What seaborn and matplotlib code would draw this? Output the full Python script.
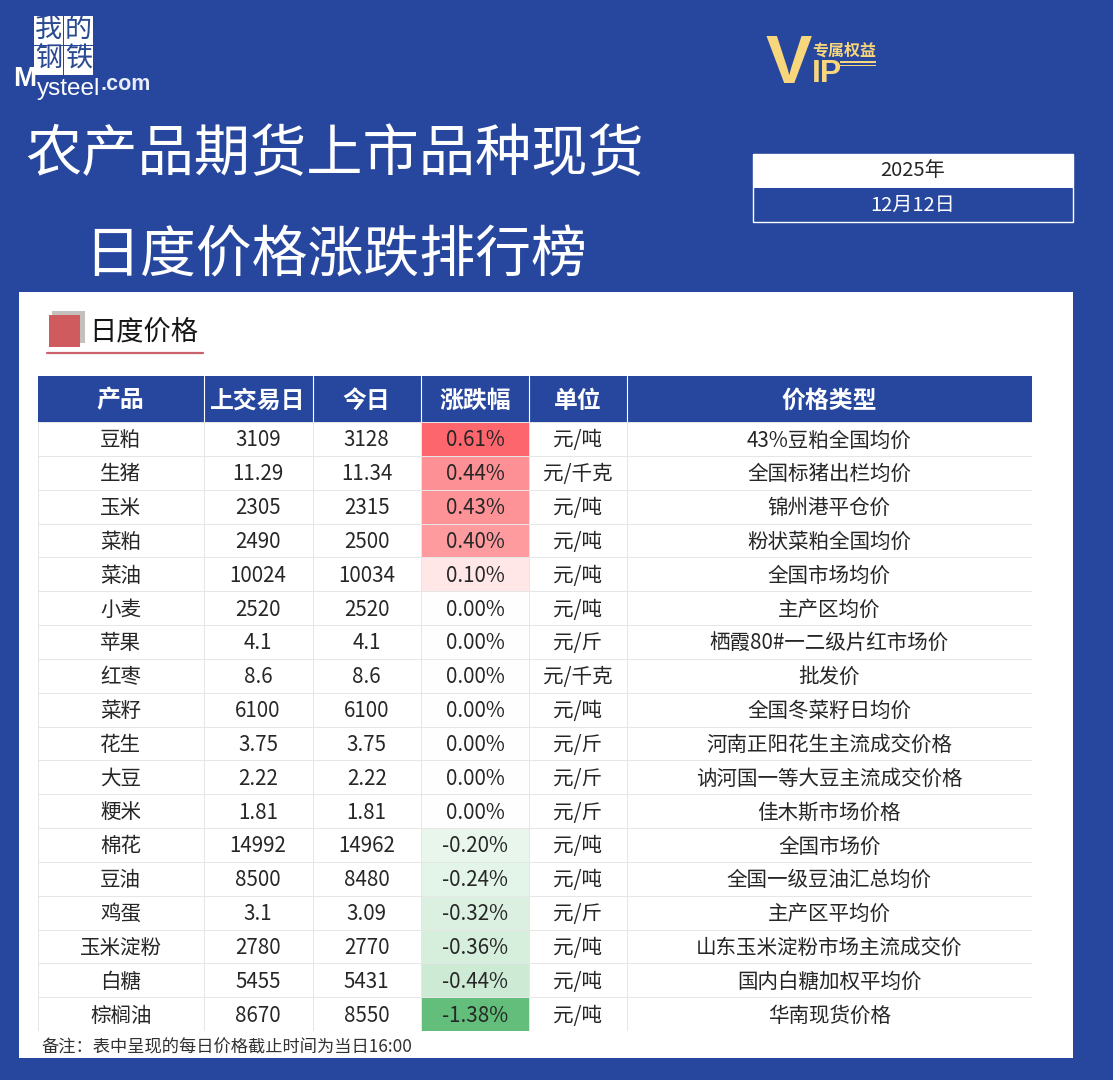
"""
Рейтинг дневного изменения цен на сельхозпродукцию (таблица на heatmap).
"""

import matplotlib.pyplot as plt
import numpy as np
import seaborn as sns
from matplotlib.colors import LinearSegmentedColormap, ListedColormap, TwoSlopeNorm
from matplotlib.patches import Rectangle

W, H = 1113, 1080
BLUE = "#27479f"
GOLD = "#f8d67c"
GRID = "#e6e6e6"
INK = "#262626"

TITLE_1 = "农产品期货上市品种现货"
TITLE_2 = "日度价格涨跌排行榜"
HEADERS = ["产品", "上交易日", "今日", "涨跌幅", "单位", "价格类型"]
NOTE = "备注：表中呈现的每日价格截止时间为当日16:00"

products = ["豆粕", "生猪", "玉米", "菜粕", "菜油", "小麦", "苹果", "红枣", "菜籽",
            "花生", "大豆", "粳米", "棉花", "豆油", "鸡蛋", "玉米淀粉", "白糖", "棕榈油"]
prev_day = ["3109", "11.29", "2305", "2490", "10024", "2520", "4.1", "8.6", "6100",
            "3.75", "2.22", "1.81", "14992", "8500", "3.1", "2780", "5455", "8670"]
today = ["3128", "11.34", "2315", "2500", "10034", "2520", "4.1", "8.6", "6100",
         "3.75", "2.22", "1.81", "14962", "8480", "3.09", "2770", "5431", "8550"]
change = [0.61, 0.44, 0.43, 0.40, 0.10, 0.0, 0.0, 0.0, 0.0,
          0.0, 0.0, 0.0, -0.20, -0.24, -0.32, -0.36, -0.44, -1.38]
units = ["元/吨", "元/千克", "元/吨", "元/吨", "元/吨", "元/吨", "元/斤", "元/千克", "元/吨",
         "元/斤", "元/斤", "元/斤", "元/吨", "元/吨", "元/斤", "元/吨", "元/吨", "元/吨"]
price_types = ["43%豆粕全国均价", "全国标猪出栏均价", "锦州港平仓价", "粉状菜粕全国均价",
               "全国市场均价", "主产区均价", "栖霞80#一二级片红市场价", "批发价",
               "全国冬菜籽日均价", "河南正阳花生主流成交价格", "讷河国一等大豆主流成交价格",
               "佳木斯市场价格", "全国市场价", "全国一级豆油汇总均价", "主产区平均价",
               "山东玉米淀粉市场主流成交价", "国内白糖加权平均价", "华南现货价格"]

COL_EDGES = [38, 203.5, 312.5, 421, 529, 626.5, 1032]
HEAD_TOP, HEAD_BOTTOM, TABLE_BOTTOM = 376, 422, 1031

sns.set_theme(style="white")
plt.rcParams["font.family"] = ["Noto Sans CJK SC", "DejaVu Sans"]

fig = plt.figure(figsize=(W / 100, H / 100), dpi=100, facecolor=BLUE)
bg = fig.add_axes([0, 0, 1, 1])
bg.set_xlim(0, W)
bg.set_ylim(H, 0)
bg.axis("off")


def box(x0, y0, x1, y1, **kwargs):
    bg.add_patch(Rectangle((x0, y0), x1 - x0, y1 - y0, **kwargs))


def label(x, y, s, size, color=INK, **kwargs):
    bg.text(x, y, s, fontsize=size, color=color, ha=kwargs.pop("ha", "center"),
            va="center", **kwargs)


# логотип
for (x, y), ch in zip([(34, 16), (64, 16), (34, 46), (64, 46)], "我的钢铁"):
    box(x, y, x + 28.5, y + 28.5, fc="white", ec="none")
    label(x + 14.2, y + 13, ch, 19.5, color="#2b4a92", fontweight="medium")
label(13.5, 79, "M", 20, color="white", ha="left", fontweight="bold", family="Liberation Sans")
label(36.5, 89, "ysteel", 17.5, color="white", ha="left", family="Liberation Sans")
label(100, 85, ".com", 15.5, color="#e8edf6", ha="left", fontweight="bold", family="Liberation Sans")

# значок VIP
label(789, 65, "V", 50, color=GOLD, fontweight="bold", family="Liberation Sans")
label(844, 50.5, "专属权益", 11.5, color=GOLD, fontweight="bold")
label(827, 74, "IP", 23, color=GOLD, fontweight="bold", family="Liberation Sans")
box(840, 61, 876, 63, fc=GOLD, ec="none")
box(840, 64.5, 876, 66, fc=GOLD, ec="none")

# заголовок
label(334.5, 155, TITLE_1, 40.5, color="white")
label(335.5, 256.5, TITLE_2, 40.2, color="white")

# дата
box(753, 153.5, 1073, 221.5, fc=BLUE, ec="white", lw=1)
box(753, 153.5, 1073, 188, fc="white", ec="none")
label(913, 171, "2025年", 14.5)
label(913, 205, "12月12日", 14.5, color="white")

# белая панель
box(18.5, 292, 1073, 1058, fc="white", ec="none")
box(52, 311, 84.5, 343, fc="#c4c1bc", ec="none")
box(48.5, 315, 80, 347, fc="#cf5b5e", ec="none")
label(89, 332, "日度价格", 19.6, ha="left", color="#151515", fontweight="medium")
bg.plot([47, 203], [352.7, 352.7], color="#c9626c", lw=1.6)

# шапка таблицы
box(COL_EDGES[0], HEAD_TOP, COL_EDGES[-1], HEAD_BOTTOM, fc=BLUE, ec="none")
for edge in COL_EDGES[1:-1]:
    bg.plot([edge, edge], [HEAD_TOP, HEAD_BOTTOM], color="white", lw=0.8)
for i, head in enumerate(HEADERS):
    label((COL_EDGES[i] + COL_EDGES[i + 1]) / 2, 400.5, head, 17.2, color="white", fontweight="bold")

label(41, 1047, NOTE, 12.4, ha="left", color="#303030")

# столбцы таблицы: каждый столбец отдельная heatmap
change_arr = np.array(change).reshape(-1, 1)
change_cmap = LinearSegmentedColormap.from_list("scale", ["#63be7b", "#ffffff", "#fc666c"])
change_norm = TwoSlopeNorm(vmin=-1.38, vcenter=0, vmax=0.61)
white_cmap = ListedColormap(["white"])

columns = [products, prev_day, today, [f"{v:.2f}%" for v in change], units, price_types]
for i, col in enumerate(columns):
    x0, x1 = COL_EDGES[i], COL_EDGES[i + 1]
    ax = fig.add_axes([x0 / W, 1 - TABLE_BOTTOM / H, (x1 - x0) / W, (TABLE_BOTTOM - HEAD_BOTTOM) / H])
    is_change = i == 3
    sns.heatmap(
        change_arr if is_change else np.zeros_like(change_arr),
        annot=np.array(col).reshape(-1, 1),
        fmt="",
        cmap=change_cmap if is_change else white_cmap,
        norm=change_norm if is_change else None,
        cbar=False,
        linewidths=0.7,
        linecolor=GRID,
        xticklabels=False,
        yticklabels=False,
        annot_kws={"fontsize": 14.8, "color": INK, "va": "center_baseline"},
        ax=ax,
    )
    # подпись чуть выше центра ячейки, как в оригинале
    for t in ax.texts:
        x, y = t.get_position()
        t.set_position((x, y - 0.03))

fig.savefig("out.png", dpi=100, facecolor=BLUE)
